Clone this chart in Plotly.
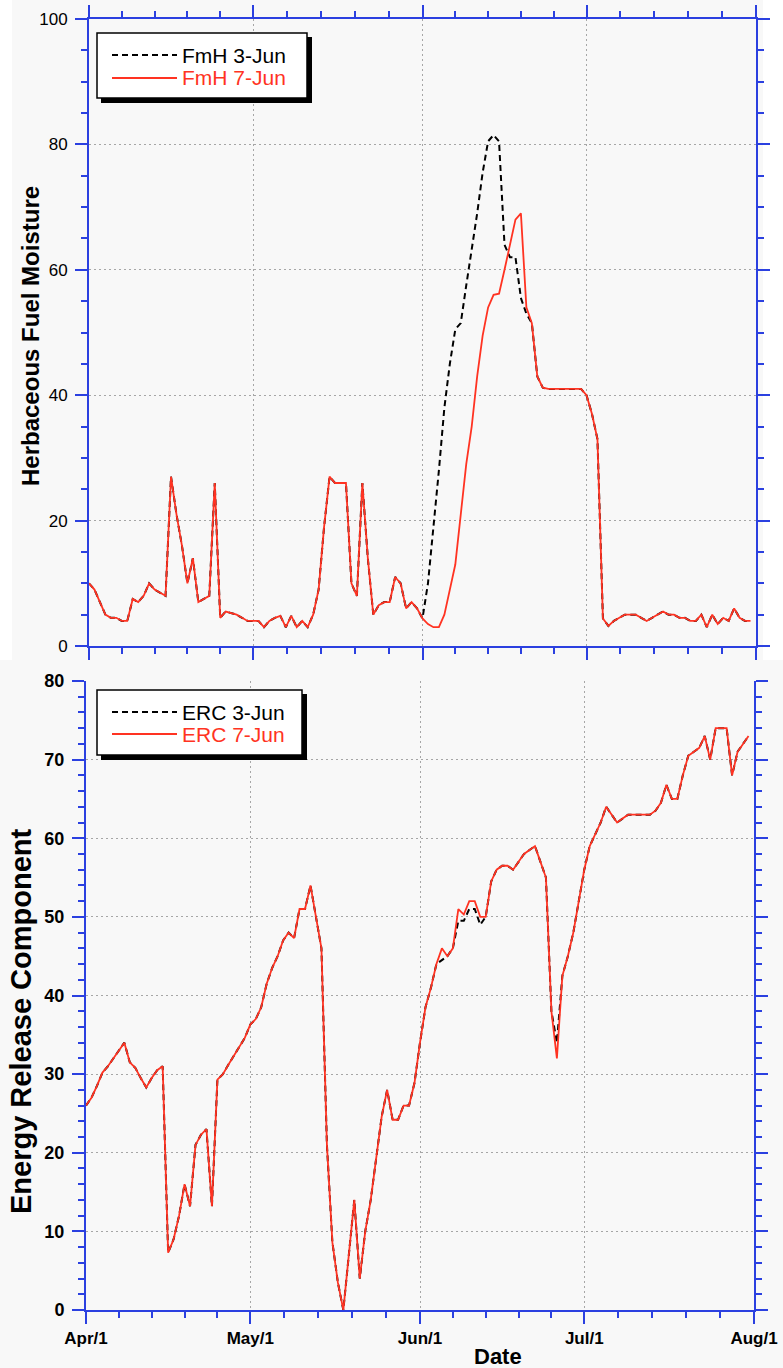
import pandas as pd
import plotly.graph_objects as go

W, H = 783, 1368

# ---- data -----------------------------------------------------------------
dates = pd.date_range("2008-04-01", "2008-07-31", freq="D")

fmh_7jun = [10, 9, 7, 5, 4.5, 4.5, 4, 4, 7.5, 7,
            8, 10, 9, 8.5, 8, 27, 21, 16, 10, 14,
            7, 7.5, 8, 26, 4.5, 5.5, 5.3, 5, 4.5, 4,
            4, 4, 3, 4, 4.5, 4.8, 3, 4.8, 3, 4,
            3, 5, 9, 19, 27, 26, 26, 26, 10, 8,
            26, 14, 5, 6.5, 7, 7, 11, 10, 6, 7,
            6, 4.4, 3.5, 3, 3, 5, 9, 13, 21, 29,
            35, 43, 49.5, 54, 56, 56.2, 60, 64, 68, 69,
            54, 51.5, 43, 41.2, 41, 41, 41, 41, 41, 41,
            41, 40, 37, 33, 4.4, 3.2, 4, 4.5, 5, 5,
            5, 4.5, 4, 4.5, 5, 5.5, 5, 5, 4.5, 4.5,
            4, 4, 5, 3, 5, 3.5, 4.5, 4, 6, 4.5,
            4, 4]

fmh_3jun = [10, 9, 7, 5, 4.5, 4.5, 4, 4, 7.5, 7,
            8, 10, 9, 8.5, 8, 27, 21, 16, 10, 14,
            7, 7.5, 8, 26, 4.5, 5.5, 5.3, 5, 4.5, 4,
            4, 4, 3, 4, 4.5, 4.8, 3, 4.8, 3, 4,
            3, 5, 9, 19, 27, 26, 26, 26, 10, 8,
            26, 14, 5, 6.5, 7, 7, 11, 10, 6, 7,
            6, 4.4, 10, 18.5, 28, 38, 45, 50.5, 51.5, 57.5,
            63, 69, 75.5, 80.5, 81.5, 80.5, 64, 62, 62, 55.5,
            53, 51.5, 43, 41.2, 41, 41, 41, 41, 41, 41,
            41, 40, 37, 33, 4.4, 3.2, 4, 4.5, 5, 5,
            5, 4.5, 4, 4.5, 5, 5.5, 5, 5, 4.5, 4.5,
            4, 4, 5, 3, 5, 3.5, 4.5, 4, 6, 4.5,
            4, 4]

erc_7jun = [26, 27, 28.5, 30.2, 31, 32, 33, 34, 31.5, 30.8,
            29.5, 28.3, 29.5, 30.5, 31, 7.3, 9, 12, 16, 13.2,
            21, 22.3, 23, 13.2, 29.3, 30, 31.2, 32.3, 33.5, 34.6,
            36.3, 37, 38.5, 41.5, 43.5, 45, 47, 48, 47.3, 51,
            51, 54, 50, 46, 21, 8.6, 3.5, 0, 7, 14,
            4, 10, 14, 19, 24.6, 28, 24.2, 24.2, 26, 26,
            28.9, 34, 38.5, 41, 44, 46, 45, 46, 51, 50.3,
            52, 52, 50, 50, 54.5, 56, 56.5, 56.5, 56, 57,
            58, 58.5, 59, 57, 55, 38, 32, 42.5, 45, 48,
            52, 56, 59, 60.5, 62, 64, 63, 62, 62.5, 63,
            63, 63, 63, 63, 63.5, 64.5, 66.8, 65, 65, 68,
            70.5, 71, 71.5, 73, 70, 74, 74, 74, 68, 71,
            72, 73]

erc_3jun = [26, 27, 28.5, 30.2, 31, 32, 33, 34, 31.5, 30.8,
            29.5, 28.3, 29.5, 30.5, 31, 7.3, 9, 12, 16, 13.2,
            21, 22.3, 23, 13.2, 29.3, 30, 31.2, 32.3, 33.5, 34.6,
            36.3, 37, 38.5, 41.5, 43.5, 45, 47, 48, 47.3, 51,
            51, 54, 50, 46, 21, 8.6, 3.5, 0, 7, 14,
            4, 10, 14, 19, 24.6, 28, 24.2, 24.2, 26, 26,
            28.9, 34, 38.5, 41, 44, 44.5, 45, 46, 49.5, 49.5,
            51, 51, 49, 50, 54.5, 56, 56.5, 56.5, 56, 57,
            58, 58.5, 59, 57, 55, 38, 34, 42.5, 45, 48,
            52, 56, 59, 60.5, 62, 64, 63, 62, 62.5, 63,
            63, 63, 63, 63, 63.5, 64.5, 66.8, 65, 65, 68,
            70.5, 71, 71.5, 73, 70, 74, 74, 74, 68, 71,
            72, 73]

month_starts = ["2008-04-01", "2008-05-01", "2008-06-01", "2008-07-01", "2008-08-01"]
month_labels = ["Apr/1", "May/1", "Jun/1", "Jul/1", "Aug/1"]

# ---- styling --------------------------------------------------------------
BLUE = "#2b40e0"
RED = "#ff3322"
GRID = "#a6a6a6"
BG = "#f8f8f8"
SANS = "Liberation Sans, Arial, sans-serif"


def px(x):
    return x / W


def py(y):
    return 1 - y / H


# five equal divisions of every month for the small date ticks
minor_dates = []
for a, b in zip(month_starts[:-1], month_starts[1:]):
    t0, t1 = pd.Timestamp(a), pd.Timestamp(b)
    for k in range(1, 5):
        minor_dates.append((t0 + (t1 - t0) * k / 5).strftime("%Y-%m-%d %H:%M:%S"))

common_axis = dict(
    showline=True, linecolor=BLUE, linewidth=2,
    ticks="outside", ticklen=12, tickwidth=2, tickcolor=BLUE,
    showgrid=True, gridcolor=GRID, gridwidth=1, griddash="2px,3px",
    zeroline=False, automargin=False,
)

fig = go.Figure()

fig.add_trace(go.Scatter(x=dates, y=fmh_3jun, mode="lines", xaxis="x", yaxis="y",
                         line=dict(color="black", width=2, dash="6px,4px"),
                         name="FmH 3-Jun", showlegend=False))
fig.add_trace(go.Scatter(x=dates, y=fmh_7jun, mode="lines", xaxis="x", yaxis="y",
                         line=dict(color=RED, width=1.8),
                         name="FmH 7-Jun", showlegend=False))
fig.add_trace(go.Scatter(x=dates, y=erc_3jun, mode="lines", xaxis="x2", yaxis="y2",
                         line=dict(color="black", width=2, dash="6px,4px"),
                         name="ERC 3-Jun", showlegend=False))
fig.add_trace(go.Scatter(x=dates, y=erc_7jun, mode="lines", xaxis="x2", yaxis="y2",
                         line=dict(color=RED, width=1.8),
                         name="ERC 7-Jun", showlegend=False))

x_minor = dict(tickmode="array", tickvals=minor_dates, ticks="outside", ticklen=6,
               tickwidth=2, tickcolor=BLUE, showgrid=False)

fig.update_layout(
    width=W, height=H, autosize=False,
    margin=dict(l=0, r=0, t=0, b=0),
    paper_bgcolor=BG, plot_bgcolor=BG,
    hovermode=False,
    xaxis=dict(domain=[px(89), px(756)], anchor="y", type="date",
               range=[month_starts[0], month_starts[-1]],
               tickmode="array", tickvals=month_starts, showticklabels=False,
               mirror="ticks", minor=x_minor, **common_axis),
    yaxis=dict(domain=[py(646), py(19)], anchor="x", range=[0, 100],
               tickmode="array", tickvals=[0, 20, 40, 60, 80, 100],
               tickfont=dict(family=SANS, size=17, color="black"),
               mirror="ticks", ticklabelstandoff=4,
               minor=dict(dtick=5, ticks="outside", ticklen=6, tickwidth=2,
                          tickcolor=BLUE, showgrid=False),
               **common_axis),
    xaxis2=dict(domain=[px(86), px(754)], anchor="y2", type="date",
                range=[month_starts[0], month_starts[-1]],
                tickmode="array", tickvals=month_starts, ticktext=month_labels,
                tickfont=dict(family=SANS, size=17, color="black", weight="bold"),
                mirror=False, minor=x_minor, **common_axis),
    yaxis2=dict(domain=[py(1310), py(681)], anchor="x2", range=[0, 80],
                tickmode="array", tickvals=list(range(0, 81, 10)),
                tickfont=dict(family=SANS, size=18, color="black", weight="bold"),
                mirror="ticks", ticklabelstandoff=4,
                minor=dict(dtick=2, ticks="outside", ticklen=6, tickwidth=2,
                           tickcolor=BLUE, showgrid=False),
                **common_axis),
)

shapes = [
    # white margins beside the upper panel
    dict(type="rect", xref="paper", yref="paper", x0=0, x1=px(12), y0=py(660), y1=1,
         fillcolor="white", line=dict(width=0), layer="below"),
    dict(type="rect", xref="paper", yref="paper", x0=px(763), x1=1, y0=py(660), y1=1,
         fillcolor="white", line=dict(width=0), layer="below"),
]
annotations = []


def legend_box(x0, y0, x1, y1, rows):
    """Boxed key with a drop shadow; rows = (y, label, colour, dash)."""
    shapes.append(dict(type="rect", xref="paper", yref="paper",
                       x0=px(x0 + 4), x1=px(x1 + 5), y0=py(y1 + 5), y1=py(y0 + 4),
                       fillcolor="black", line=dict(width=0)))
    shapes.append(dict(type="rect", xref="paper", yref="paper",
                       x0=px(x0), x1=px(x1), y0=py(y1), y1=py(y0),
                       fillcolor="white", line=dict(color="black", width=1.5)))
    for yy, label, colour, dash in rows:
        shapes.append(dict(type="line", xref="paper", yref="paper",
                           x0=px(x0 + 15), x1=px(x0 + 80), y0=py(yy), y1=py(yy),
                           line=dict(color=colour, width=2 if dash else 1.8, dash=dash)))
        annotations.append(dict(xref="paper", yref="paper", x=px(x0 + 83), y=py(yy),
                                xanchor="left", yanchor="middle", showarrow=False,
                                text=label, font=dict(family=SANS, size=21, color=colour)))


legend_box(97, 33, 307, 98, [(55, "FmH 3-Jun", "black", "6px,4px"),
                             (78, "FmH 7-Jun", RED, None)])
legend_box(97, 690, 302, 755, [(712, "ERC 3-Jun", "black", "6px,4px"),
                               (734, "ERC 7-Jun", RED, None)])

annotations += [
    dict(xref="paper", yref="paper", x=px(30), y=py(336), textangle=-90,
         showarrow=False, xanchor="center", yanchor="middle",
         text="Herbaceous Fuel Moisture",
         font=dict(family=SANS, size=24, color="black", weight="bold")),
    dict(xref="paper", yref="paper", x=px(21), y=py(1022), textangle=-90,
         showarrow=False, xanchor="center", yanchor="middle",
         text="Energy Release Component",
         font=dict(family=SANS, size=29, color="black", weight="bold")),
    dict(xref="paper", yref="paper", x=px(498), y=py(1356),
         showarrow=False, xanchor="center", yanchor="middle",
         text="Date", font=dict(family=SANS, size=22, color="black", weight="bold")),
]

fig.update_layout(shapes=shapes, annotations=annotations)
fig.write_html("out.html")
